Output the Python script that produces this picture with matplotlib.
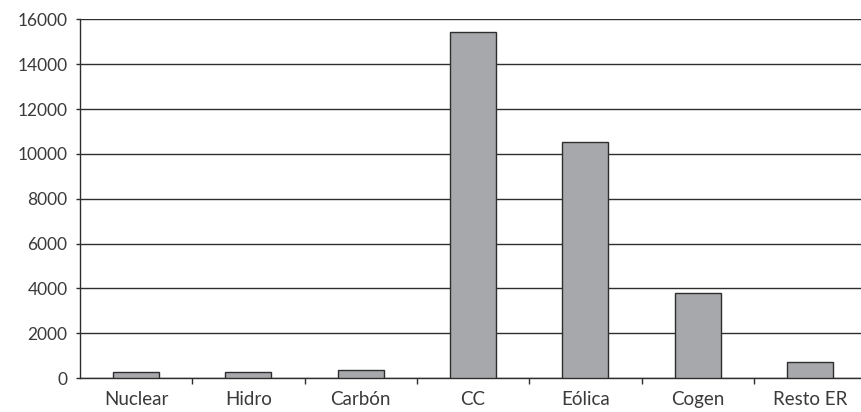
import matplotlib
matplotlib.use("Agg")
import matplotlib.pyplot as plt

CATEGORIES = ["Nuclear", "Hidro", "Carbón", "CC", "Eólica", "Cogen", "Resto ER"]
VALUES = [250, 250, 360, 15430, 10550, 3780, 700]
Y_TICKS = [0, 2000, 4000, 6000, 8000, 10000, 12000, 14000, 16000]

BAR_COLOR = "#a7a8ab"
LINE_COLOR = "#2e2e2e"
TEXT_COLOR = "#3a3a3a"

plt.rcParams.update({
    "font.family": ["Lato", "DejaVu Sans"],
    "font.size": 12.5,
})

fig = plt.figure(figsize=(8.62, 4.12), dpi=100)
ax = fig.add_axes([0.0928, 0.0825, 0.912, 0.8702])

x = range(len(CATEGORIES))
ax.bar(x, VALUES, width=0.41, color=BAR_COLOR, edgecolor=LINE_COLOR,
       linewidth=1.0, zorder=3)

ax.set_ylim(0, 16000)
ax.set_xlim(-0.5, len(CATEGORIES) - 0.5)
ax.set_yticks(Y_TICKS)
ax.set_yticklabels([str(v) for v in Y_TICKS], color=TEXT_COLOR, fontsize=12.5)
ax.yaxis.grid(True, color=LINE_COLOR, linewidth=1.0, zorder=0)

# category labels centred under bars, ticks on the boundaries between them
ax.set_xticks([i + 0.5 for i in range(len(CATEGORIES) - 1)])
ax.set_xticklabels([])
ax.set_xticks(list(x), minor=True)
ax.set_xticklabels(CATEGORIES, minor=True, color=TEXT_COLOR, fontsize=13.5)
ax.tick_params(axis="x", which="minor", length=0, pad=9)
ax.tick_params(axis="x", which="major", length=4, width=1.0, color=LINE_COLOR)
ax.tick_params(axis="y", length=3, width=1.0, color=LINE_COLOR, pad=6)

for side in ["top", "right"]:
    ax.spines[side].set_visible(False)
for side in ["left", "bottom"]:
    ax.spines[side].set_color(LINE_COLOR)
    ax.spines[side].set_linewidth(1.0)

fig.savefig("out.png", dpi=100)
